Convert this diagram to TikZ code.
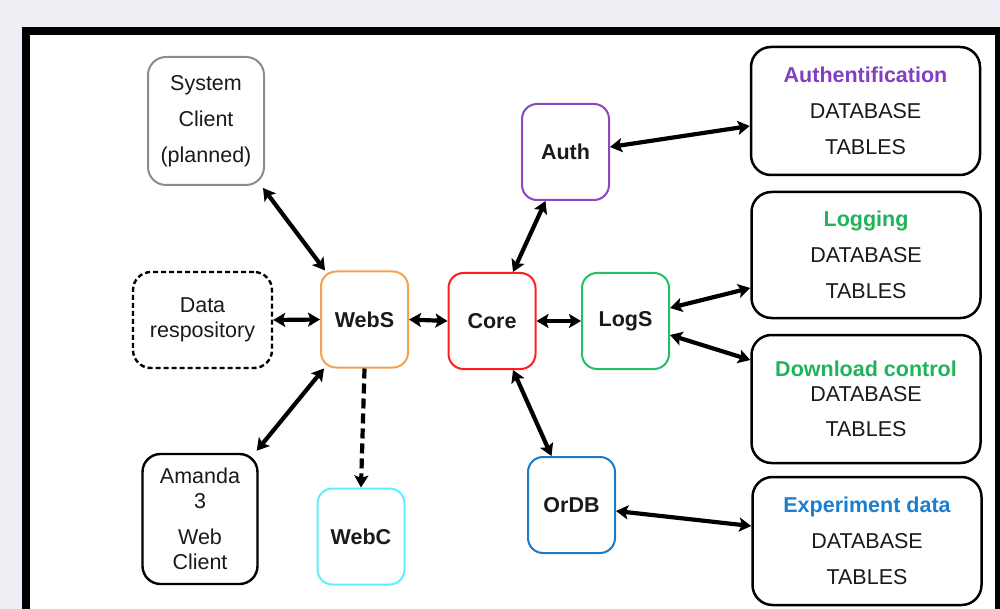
\documentclass[tikz,border=0pt]{standalone}
\usepackage{fontspec}
\setmainfont{Liberation Sans}
\usetikzlibrary{arrows.meta}

\definecolor{bgcol}{RGB}{239,238,244}
\definecolor{textcol}{RGB}{26,26,26}
\definecolor{grayc}{RGB}{140,140,140}
\definecolor{orangec}{RGB}{242,162,84}
\definecolor{redc}{RGB}{255,30,30}
\definecolor{purplec}{RGB}{140,72,190}
\definecolor{purplet}{RGB}{132,62,192}
\definecolor{greenc}{RGB}{40,190,100}
\definecolor{greent}{RGB}{32,180,90}
\definecolor{bluec}{RGB}{30,120,200}
\definecolor{bluet}{RGB}{27,126,206}
\definecolor{cyanc}{RGB}{92,240,255}

\tikzset{
  basefont/.style={font=\fontsize{21.5}{25}\selectfont},
  box/.style={draw, rounded corners=15pt, line width=2pt, align=center,
    inner sep=0pt, text=textcol, basefont},
  client/.style={box, rounded corners=18pt},
  svc/.style={box, minimum width=87pt, minimum height=96pt,
    font=\bfseries\fontsize{21.5}{25}\selectfont},
  dbbox/.style={box, rounded corners=20pt, line width=2.5pt,
    minimum width=229pt, minimum height=128pt},
  biarrow/.style={line width=4.2pt, {Stealth[length=12pt,width=14pt,inset=2.5pt]}-{Stealth[length=12pt,width=14pt,inset=2.5pt]}},
  onearrow/.style={line width=4.2pt, -{Stealth[length=12pt,width=14pt,inset=2.5pt]}}
}

\begin{document}
\begin{tikzpicture}[x=1pt,y=-1pt]
\useasboundingbox (0,0) rectangle (1000,609);
\fill[bgcol] (0,0) rectangle (1000,609);
\begin{scope}
  \clip (0,0) rectangle (1000,609);
  \draw[line width=8pt, fill=white] (26,31) rectangle (999,650);
\end{scope}

% clients and data source on the left
\node[client, draw=grayc, minimum width=116pt, minimum height=128pt] (sysc) at (206,121)
  {System\\[11pt]Client\\[11pt](planned)};
\node[client, dashed, line width=2.4pt, dash pattern=on 5pt off 3pt, minimum width=139pt, minimum height=96pt] (datar) at (202.5,320)
  {Data\\respository};
\node[client, line width=2.4pt, minimum width=115pt, minimum height=130pt] (amanda) at (200,519)
  {Amanda\\3\\[11pt]Web\\Client};

% services
\node[svc, draw=orangec] (webs) at (364.5,319.5) {WebS};
\node[svc, draw=cyanc] (webc) at (361,536.5) {WebC};
\node[svc, draw=redc] (core) at (492,321) {Core};
\node[svc, draw=purplec] (auth) at (565.5,152) {Auth};
\node[svc, draw=greenc] (logs) at (625.5,321) {LogS};
\node[svc, draw=bluec] (ordb) at (571.5,505) {OrDB};

% database tables
\node[dbbox] (authdb) at (865.5,111)
  {\textcolor{purplet}{\bfseries Authentification}\\[11pt]DATABASE\\[11pt]TABLES};
\node[dbbox, minimum height=126pt] (logdb) at (866,255)
  {\textcolor{greent}{\bfseries Logging}\\[11pt]DATABASE\\[11pt]TABLES};
\node[dbbox] (dldb) at (866,399)
  {\textcolor{greent}{\bfseries Download control}\\DATABASE\\[10pt]TABLES};
\node[dbbox] (expdb) at (867,541)
  {\textcolor{bluet}{\bfseries Experiment data}\\[11pt]DATABASE\\[11pt]TABLES};

% connectors
\draw[biarrow] ([shift={(-2pt,-2pt)}]sysc.south east) -- ([xshift=5pt]webs.north west);
\draw[biarrow] (datar.east) -- (webs.west);
\draw[biarrow] ([shift={(-2pt,2pt)}]amanda.north east) -- ([xshift=4pt]webs.south west);
\draw[biarrow] (webs.east) -- (core.west);
\draw[onearrow, dash pattern=on 10pt off 5pt] (webs.south) -- (webc.north);
\draw[biarrow] ([xshift=21pt]core.north) -- ([xshift=-20pt]auth.south);
\draw[biarrow] (core.east) -- (logs.west);
\draw[biarrow] ([xshift=21pt]core.south) -- ([xshift=-20pt]ordb.north);
\draw[biarrow] ([yshift=5pt]auth.east) -- ([yshift=-15pt]authdb.west);
\draw[biarrow] ([yshift=13pt]logs.east) -- ([yshift=-33pt]logdb.west);
\draw[biarrow] ([yshift=-14pt]logs.east) -- ([yshift=39pt]dldb.west);
\draw[biarrow] ([yshift=-6pt]ordb.east) -- ([yshift=15pt]expdb.west);
\end{tikzpicture}
\end{document}
